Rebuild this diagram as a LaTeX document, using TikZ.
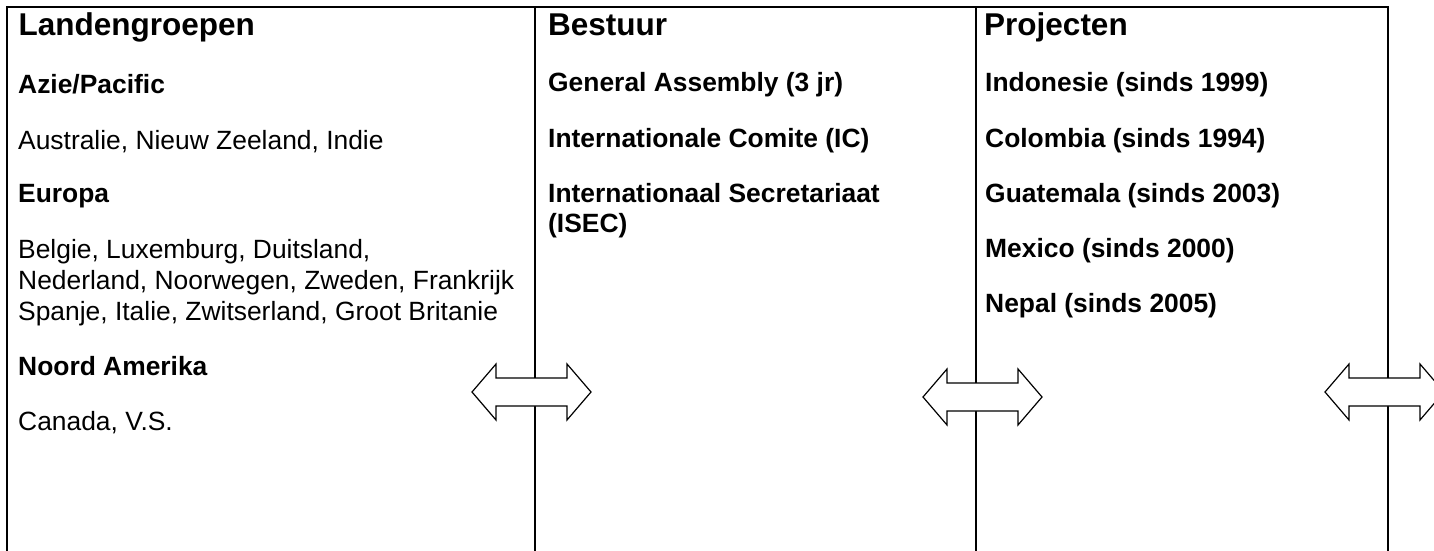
\documentclass[tikz,border=0pt]{standalone}
\usepackage{fontspec}
\setmainfont{Liberation Sans}
\begin{document}
\begin{tikzpicture}[x=1pt,y=-1pt,
  frameline/.style={line width=1.8pt,black},
  arrowbox/.style={draw=black,fill=white,line width=1.2pt,line join=miter},
  coltitle/.style={anchor=base west,inner sep=0pt,font=\bfseries\fontsize{31.5}{36}\selectfont},
  headtext/.style={anchor=base west,inner sep=0pt,font=\bfseries\fontsize{26.4}{30.7}\selectfont},
  bodytext/.style={anchor=base west,inner sep=0pt,font=\fontsize{26.4}{30.7}\selectfont}]
\useasboundingbox (0,0) rectangle (1434,551);
\clip (0,0) rectangle (1434,551);
\fill[white] (0,0) rectangle (1434,551);
% frame
\coordinate (tl) at (7,7);
\coordinate (tr) at (1388,7);
\draw[frameline] (7,551) -- (tl) -- (tr) -- (1388,551);
\draw[frameline] (535,7) -- (535,551);
\draw[frameline] (976,7) -- (976,551);
% column 1
\node[coltitle] (t1) at (18.5,36) {Landengroepen};
\node[headtext] (a1) at (18,93) {Azie/Pacific};
\node[bodytext] (a2) at (18,149) {Australie, Nieuw Zeeland, Indie};
\node[headtext] (e1) at (18,202) {Europa};
\node[bodytext] (e2) at (18,258) {Belgie, Luxemburg, Duitsland,};
\node[bodytext] (e3) at (18,289) {Nederland, Noorwegen, Zweden, Frankrijk};
\node[bodytext] (e4) at (18,320) {Spanje, Italie, Zwitserland, Groot Britanie};
\node[headtext] (n1) at (18,375) {Noord Amerika};
\node[bodytext] (n2) at (18,430) {Canada, V.S.};
% column 2
\node[coltitle] (t2) at (548,36) {Bestuur};
\node[headtext] (b1) at (548,92) {General Assembly (3 jr)};
\node[headtext] (b2) at (548,147) {Internationale Comite (IC)};
\node[headtext] (b3) at (548,202) {Internationaal Secretariaat};
\node[headtext] (b4) at (548,232) {(ISEC)};
% column 3
\node[coltitle] (t3) at (984,36) {Projecten};
\node[headtext] (p1) at (985,92) {Indonesie (sinds 1999)};
\node[headtext] (p2) at (985,147) {Colombia (sinds 1994)};
\node[headtext] (p3) at (985,202) {Guatemala (sinds 2003)};
\node[headtext] (p4) at (985,257) {Mexico (sinds 2000)};
\node[headtext] (p5) at (985,312) {Nepal (sinds 2005)};
% double block arrows
\draw[arrowbox] (472,392) -- ++(24,-28) -- ++(0,14) -- ++(71,0) -- ++(0,-14) -- ++(24,28) -- ++(-24,28) -- ++(0,-14) -- ++(-71,0) -- ++(0,14) -- cycle;
\draw[arrowbox] (923,397) -- ++(24,-28) -- ++(0,14) -- ++(71,0) -- ++(0,-14) -- ++(24,28) -- ++(-24,28) -- ++(0,-14) -- ++(-71,0) -- ++(0,14) -- cycle;
\draw[arrowbox] (1325,392) -- ++(24,-28) -- ++(0,14) -- ++(71,0) -- ++(0,-14) -- ++(24,28) -- ++(-24,28) -- ++(0,-14) -- ++(-71,0) -- ++(0,14) -- cycle;
\end{tikzpicture}
\end{document}
